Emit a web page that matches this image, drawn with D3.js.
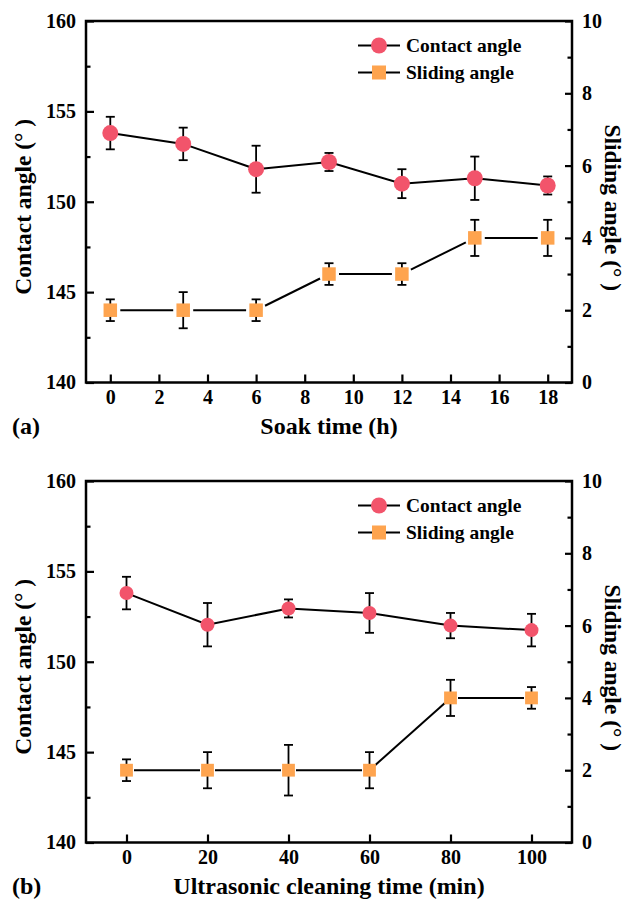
<!DOCTYPE html>
<html>
<head>
<meta charset="utf-8">
<script src="https://cdn.jsdelivr.net/npm/d3@7"></script>
<style>
  body { margin: 0; background: #fff; }
  text { font-family: "Liberation Serif", "Times New Roman", serif; font-weight: bold; fill: #000; }
</style>
</head>
<body>
<div id="chart"></div>
<script>
// panel (a): soak time
const soakTime = [0, 3, 6, 9, 12, 15, 18];
const soakContact = [153.8, 153.2, 151.8, 152.2, 151.0, 151.3, 150.9];
const soakContactErr = [0.9, 0.9, 1.3, 0.5, 0.8, 1.2, 0.5];
const soakSliding = [2, 2, 2, 3, 3, 4, 4];
const soakSlidingErr = [0.3, 0.5, 0.3, 0.3, 0.3, 0.5, 0.5];
const soakTicks = [0, 2, 4, 6, 8, 10, 12, 14, 16, 18];

// panel (b): ultrasonic cleaning time
const cleanTime = [0, 20, 40, 60, 80, 100];
const cleanContact = [153.8, 152.05, 152.95, 152.7, 152.0, 151.75];
const cleanContactErr = [0.9, 1.2, 0.5, 1.1, 0.7, 0.9];
const cleanSliding = [2, 2, 2, 2, 4, 4];
const cleanSlidingErr = [0.3, 0.5, 0.7, 0.5, 0.5, 0.3];
const cleanTicks = [0, 20, 40, 60, 80, 100];

const leftTicks = [140, 145, 150, 155, 160];
const leftMinor = [142.5, 147.5, 152.5, 157.5];
const rightTicks = [0, 2, 4, 6, 8, 10];
const rightMinor = [1, 3, 5, 7, 9];

const contactColor = "#f2546b";
const slidingColor = "#fea44f";

const width = 635, height = 900;
const svg = d3.select("#chart").append("svg")
    .attr("width", width)
    .attr("height", height);

const box = { left: 86, right: 572, height: 361.5 };

const panels = [
    { top: 21, label: "(a)", xTitle: "Soak time (h)", xDomain: [-1, 19], xTicks: soakTicks,
      x: soakTime, contact: soakContact, contactErr: soakContactErr,
      sliding: soakSliding, slidingErr: soakSlidingErr, r: 8, sq: 13.5, gap: 10 },
    { top: 481, label: "(b)", xTitle: "Ultrasonic cleaning time (min)", xDomain: [-10, 110], xTicks: cleanTicks,
      x: cleanTime, contact: cleanContact, contactErr: cleanContactErr,
      sliding: cleanSliding, slidingErr: cleanSlidingErr, r: 7, sq: 12.8, gap: 7.5 }
];

panels.forEach(p => {
    const innerW = box.right - box.left;
    const g = svg.append("g").attr("transform", `translate(${box.left},${p.top})`);

    const x = d3.scaleLinear(p.xDomain, [0, innerW]);
    const yL = d3.scaleLinear([140, 160], [box.height, 0]);
    const yR = d3.scaleLinear([0, 10], [box.height, 0]);

    // axes, ticks point inward
    g.append("g")
        .attr("transform", `translate(0,${box.height})`)
        .call(d3.axisBottom(x).tickValues(p.xTicks).tickSize(-8).tickPadding(7).tickFormat(d3.format("d")))
        .call(a => a.select(".domain").remove());
    g.append("g")
        .call(d3.axisLeft(yL).tickValues(leftTicks).tickSize(-8).tickPadding(10))
        .call(a => a.select(".domain").remove());
    g.append("g")
        .call(d3.axisLeft(yL).tickValues(leftMinor).tickSize(-4.5).tickFormat(""))
        .call(a => a.select(".domain").remove());
    g.append("g")
        .attr("transform", `translate(${innerW},0)`)
        .call(d3.axisRight(yR).tickValues(rightTicks).tickSize(-7).tickPadding(10))
        .call(a => a.select(".domain").remove());
    g.append("g")
        .attr("transform", `translate(${innerW},0)`)
        .call(d3.axisRight(yR).tickValues(rightMinor).tickSize(-4.5).tickFormat(""))
        .call(a => a.select(".domain").remove());

    g.selectAll(".tick line").attr("stroke", "#000").attr("stroke-width", 2.2);
    g.selectAll(".tick text")
        .attr("font-family", "'Liberation Serif', 'Times New Roman', serif")
        .attr("font-weight", "bold")
        .attr("font-size", 20)
        .attr("fill", "#000");

    g.append("rect")
        .attr("width", innerW)
        .attr("height", box.height)
        .attr("fill", "none")
        .attr("stroke", "#000")
        .attr("stroke-width", 2.5);

    const cData = p.x.map((t, i) => ({ t, v: p.contact[i], e: p.contactErr[i] }));
    const sData = p.x.map((t, i) => ({ t, v: p.sliding[i], e: p.slidingErr[i] }));

    // contact angle line
    g.append("path")
        .datum(cData)
        .attr("fill", "none")
        .attr("stroke", "#000")
        .attr("stroke-width", 2)
        .attr("d", d3.line().x(d => x(d.t)).y(d => yL(d.v)));

    // sliding angle line, drawn with a gap round each square
    const sPts = sData.map(d => [x(d.t), yR(d.v)]);
    d3.pairs(sPts).forEach(([a, b]) => {
        const dx = b[0] - a[0], dy = b[1] - a[1];
        const len = Math.hypot(dx, dy);
        const ux = dx / len, uy = dy / len;
        g.append("line")
            .attr("x1", a[0] + ux * p.gap).attr("y1", a[1] + uy * p.gap)
            .attr("x2", b[0] - ux * p.gap).attr("y2", b[1] - uy * p.gap)
            .attr("stroke", "#000")
            .attr("stroke-width", 2);
    });

    function errorBars(data, y) {
        const eb = g.append("g").attr("stroke", "#000").attr("stroke-width", 1.8);
        data.forEach(d => {
            const cx = x(d.t), y0 = y(d.v + d.e), y1 = y(d.v - d.e);
            eb.append("line").attr("x1", cx).attr("x2", cx).attr("y1", y0).attr("y2", y1);
            eb.append("line").attr("x1", cx - 4.5).attr("x2", cx + 4.5).attr("y1", y0).attr("y2", y0);
            eb.append("line").attr("x1", cx - 4.5).attr("x2", cx + 4.5).attr("y1", y1).attr("y2", y1);
        });
    }
    errorBars(cData, yL);
    errorBars(sData, yR);

    g.selectAll(".dot")
        .data(cData)
        .join("circle")
        .attr("class", "dot")
        .attr("cx", d => x(d.t))
        .attr("cy", d => yL(d.v))
        .attr("r", p.r)
        .attr("fill", contactColor);

    g.selectAll(".sq")
        .data(sData)
        .join("rect")
        .attr("class", "sq")
        .attr("x", d => x(d.t) - p.sq / 2)
        .attr("y", d => yR(d.v) - p.sq / 2)
        .attr("width", p.sq)
        .attr("height", p.sq)
        .attr("fill", slidingColor);

    // legend
    const legend = [
        { name: "Contact angle", shape: "circle" },
        { name: "Sliding angle", shape: "square" }
    ];
    const lg = g.selectAll(".legend")
        .data(legend)
        .join("g")
        .attr("class", "legend")
        .attr("transform", (d, i) => `translate(${293},${24.5 + i * 27})`);
    lg.append("line")
        .attr("x1", -21).attr("x2", 21)
        .attr("stroke", "#000").attr("stroke-width", 2);
    lg.filter(d => d.shape === "circle").append("circle")
        .attr("r", 8).attr("fill", contactColor);
    lg.filter(d => d.shape === "square").append("rect")
        .attr("x", -7).attr("y", -7).attr("width", 14).attr("height", 14)
        .attr("fill", slidingColor);
    lg.append("text")
        .attr("x", 27)
        .attr("y", 6.8)
        .attr("font-size", 19.5)
        .text(d => d.name);

    // titles
    g.append("text")
        .attr("x", innerW / 2)
        .attr("y", box.height + 51)
        .attr("text-anchor", "middle")
        .attr("font-size", 24)
        .text(p.xTitle);
    g.append("text")
        .attr("transform", `translate(${31 - box.left},${box.height / 2 + 5}) rotate(-90)`)
        .attr("text-anchor", "middle")
        .attr("font-size", 23.5)
        .text("Contact angle (° )");
    g.append("text")
        .attr("transform", `translate(${605 - box.left},${box.height / 2 + 6}) rotate(90)`)
        .attr("text-anchor", "middle")
        .attr("font-size", 23.5)
        .text("Sliding angle (° )");
    g.append("text")
        .attr("x", 12 - box.left)
        .attr("y", box.height + 51)
        .attr("font-size", 24)
        .text(p.label);
});
</script>
</body>
</html>
